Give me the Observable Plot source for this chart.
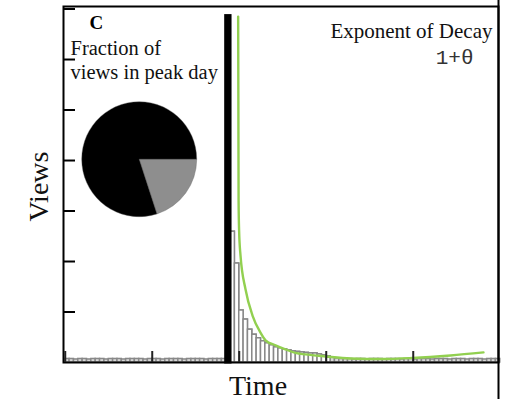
<!DOCTYPE html>
<html>
<head>
<meta charset="utf-8">
<script src="https://cdn.jsdelivr.net/npm/d3@7"></script>
<script src="https://cdn.jsdelivr.net/npm/@observablehq/plot@0.6"></script>
<style>
  html, body { margin: 0; padding: 0; background: white; }
</style>
</head>
<body>
<div id="chart"></div>
<script>
// ---- data ----
const preStartDay = 0;
const preViews = [0.07,0.07,0.06,0.07,0.07,0.06,0.07,0.07,0.07,0.06,
                  0.07,0.07,0.07,0.06,0.07,0.07,0.07,0.07,0.06,0.07,
                  0.07,0.07,0.06,0.07,0.07,0.07,0.07,0.06,0.07,0.07,
                  0.07,0.07,0.06,0.07,0.07,0.07,0.07];
const peakDay = 37;
const peakViews = 6.86;
const postStartDay = 38;
const postViews = [2.59,1.96,1.03,0.85,0.65,0.55,0.48,0.42,0.38,0.34,
                   0.30,0.28,0.26,0.24,0.22,0.21,0.20,0.19,0.18,0.18,
                   0.16,0.14,0.12,0.10,0.08,0.07,0.07,0.07,0.06,0.07,
                   0.07,0.06,0.07,0.07,0.07,0.06,0.07,0.07,0.07,0.06,
                   0.07,0.07,0.06,0.07,0.07,0.07,0.06,0.07,0.07,0.07,
                   0.06,0.07,0.07,0.07,0.06,0.07,0.07,0.07,0.06,0.07,
                   0.07,0.07];
// fitted decay curve (green)
const fitX = [39.75,39.8,39.85,39.97,40.29,41.44,43.05,44.89,46.04,48.34,50.64,52.93,55.23,59.83,65.58,73.16,79.83,88.57,96.15];
const fitY = [6.85,5.19,3.21,2.61,2.12,1.45,0.93,0.59,0.44,0.34,0.26,0.19,0.16,0.12,0.08,0.07,0.09,0.14,0.20];
// pie: fraction of views
const pieLabels = ["other days", "peak day"];
const pieValues = [0.2, 0.8];
const pieColors = ["#8e8e8e", "#000000"];
// ticks
const xTicks = [0, 20, 40, 60, 80];
const yTicks = [1, 2, 3, 4, 5, 6, 7];
const xDomain = [-0.4, 99.6];
const yDomain = [0, 7.05];

// ---- tables ----
const bars = [
  ...preViews.map((v, i) => ({day: preStartDay + i, v})),
  ...postViews.map((v, i) => ({day: postStartDay + i, v}))
];
const peak = [{day: peakDay, v: peakViews}];
const fit = fitX.map((x, i) => ({x, y: fitY[i]}));

const pieCenter = {x: 17.12, y: 4.016};
const pieRadius = 57.5;

const serif = "'Liberation Serif', 'Times New Roman', serif";
const mono = "'Liberation Mono', 'DejaVu Sans Mono', monospace";

const pieMark = (index, scales) => {
  const g = d3.create("svg:g")
    .attr("transform", `translate(${scales.x(pieCenter.x)},${scales.y(pieCenter.y)})`);
  const arcs = d3.pie().sort(null)
    .startAngle(Math.PI / 2).endAngle(Math.PI / 2 + 2 * Math.PI)(pieValues);
  const arc = d3.arc().innerRadius(0).outerRadius(pieRadius);
  g.selectAll("path").data(arcs).join("path")
    .attr("d", arc)
    .attr("fill", (d, i) => pieColors[i])
    .attr("stroke", "#666")
    .attr("stroke-width", 0.4)
    .append("title").text((d, i) => `${pieLabels[i]}: ${pieValues[i]}`);
  return g.node();
};

const chart = Plot.plot({
  width: 510,
  height: 399,
  marginLeft: 63,
  marginRight: 12,
  marginTop: 6,
  marginBottom: 37,
  x: {domain: xDomain, axis: null},
  y: {domain: yDomain, axis: null},
  style: {background: "white", overflow: "visible", fontFamily: serif},
  marks: [
    Plot.rect(bars, {x1: "day", x2: d => d.day + 1, y1: 0, y2: "v",
      fill: "#d8d8d8", stroke: "#888", strokeWidth: 1.5}),
    Plot.rect(bars.filter(d => d.v > 0.1), {x1: "day", x2: d => d.day + 1, y1: 0, y2: "v",
      fill: "white", stroke: "#888", strokeWidth: 1.5}),
    Plot.rect(peak, {x1: "day", x2: d => d.day + 1, y1: 0, y2: "v",
      fill: "black", stroke: "black", strokeWidth: 3}),
    Plot.line(fit, {x: "x", y: "y", stroke: "#92d050", strokeWidth: 2.4, curve: "monotone-x"}),
    pieMark,
    Plot.frame({stroke: "black", strokeWidth: 2}),
    Plot.ruleX([xDomain[1]], {insetTop: -6, insetBottom: -37, stroke: "black", strokeWidth: 2}),
    Plot.tickY(yTicks, {y: d => d, insetRight: 423, stroke: "black", strokeWidth: 2}),
    Plot.tickX(xTicks, {x: d => d, insetTop: 345, stroke: "#222", strokeWidth: 2}),
    Plot.text(["C"], {frameAnchor: "top-left", dx: 26, dy: 22, lineAnchor: "bottom",
      textAnchor: "start", fontSize: 19, fontWeight: "bold", fill: "black", fontFamily: serif}),
    Plot.text(["Fraction of\nviews in peak day"], {frameAnchor: "top-left", dx: 7, dy: 72,
      lineAnchor: "bottom", lineHeight: 1.17, textAnchor: "start", fontSize: 20.5, fill: "#111", fontFamily: serif}),
    Plot.text(["Exponent of Decay"], {frameAnchor: "top-right", dx: -6, dy: 31,
      lineAnchor: "bottom", textAnchor: "end", fontSize: 21, fill: "#111", fontFamily: serif}),
    Plot.text(["1+θ"], {frameAnchor: "top-right", dx: -25, dy: 57,
      lineAnchor: "bottom", textAnchor: "end", fontSize: 21, fill: "#333", fontFamily: mono}),
    Plot.text(["Views"], {frameAnchor: "left", dx: -16, dy: 2, rotate: -90,
      lineAnchor: "bottom", textAnchor: "middle", fontSize: 28, fill: "#111", fontFamily: serif}),
    Plot.text(["Time"], {frameAnchor: "bottom", dx: -23, dy: 32,
      lineAnchor: "bottom", textAnchor: "middle", fontSize: 28, fill: "#111", fontFamily: serif})
  ]
});

document.getElementById("chart").appendChild(chart);
</script>
</body>
</html>
